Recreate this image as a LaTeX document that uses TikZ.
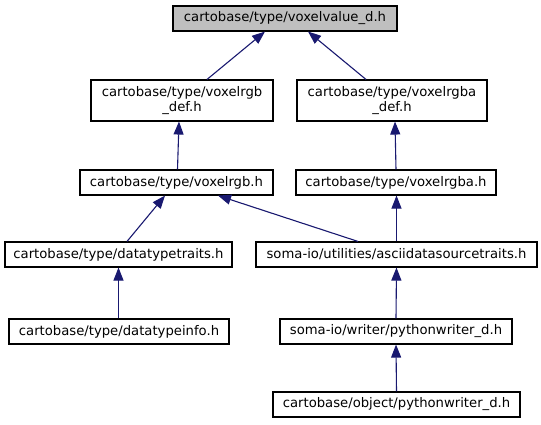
\documentclass[tikz,border=0pt]{standalone}
\usepackage{fontspec}
\setmainfont{DejaVu Sans}
\usetikzlibrary{arrows.meta}
\definecolor{edgeblue}{RGB}{25,25,112}
\definecolor{hlgray}{RGB}{191,191,191}
\begin{document}
\begin{tikzpicture}[x=1pt,y=-1pt,
  box/.style={draw=black,line width=1.1pt,fill=white,inner sep=0pt,font=\fontsize{13.2}{15.5}\selectfont,align=center,minimum height=25pt},
  dep/.style={draw=edgeblue,line width=1.1pt,-{Triangle[length=13pt,width=10pt]},color=edgeblue,fill=none}
]
\useasboundingbox (0,0) rectangle (541,425);
\node[box,fill=hlgray,minimum width=224pt] (vv) at (285,18.5) {cartobase/type/voxelvalue\_d.h};
\node[box,minimum width=182pt,minimum height=41pt] (rgbdef) at (182,100.5) {cartobase/type/voxelrgb\\\_def.h};
\node[box,minimum width=190pt,minimum height=41pt] (rgbadef) at (392,100.5) {cartobase/type/voxelrgba\\\_def.h};
\node[box,minimum width=193pt] (rgb) at (176.5,182.5) {cartobase/type/voxelrgb.h};
\node[box,minimum width=200pt] (rgba) at (396,182.5) {cartobase/type/voxelrgba.h};
\node[box,minimum width=227pt] (dtt) at (118.5,254.5) {cartobase/type/datatypetraits.h};
\node[box,minimum width=281pt] (ascii) at (396.5,254.5) {soma-io/utilities/asciidatasourcetraits.h};
\node[box,minimum width=220pt] (dti) at (119,331.5) {cartobase/type/datatypeinfo.h};
\node[box,minimum width=232pt] (pyw) at (396,331.5) {soma-io/writer/pythonwriter\_d.h};
\node[box,minimum width=247pt] (opyw) at (396.5,404.5) {cartobase/object/pythonwriter\_d.h};

\draw[dep] ([xshift=25pt]rgbdef.north) -- ([xshift=-20pt]vv.south);
\draw[dep] ([xshift=-26pt]rgbadef.north) -- ([xshift=23pt]vv.south);
\draw[dep] ([xshift=1pt]rgb.north) -- ([xshift=-3pt]rgbdef.south);
\draw[dep] (rgba.north) -- ([xshift=3pt]rgbadef.south);
\draw[dep] ([xshift=8.5pt]dtt.north) -- ([xshift=-11.5pt]rgb.south);
\draw[dep] ([xshift=-38.5pt]ascii.north) -- ([xshift=41.5pt]rgb.south);
\draw[dep] (ascii.north) -- ([xshift=0.5pt]rgba.south);
\draw[dep] ([xshift=-0.5pt]dti.north) -- (dtt.south);
\draw[dep] (pyw.north) -- (ascii.south);
\draw[dep] (opyw.north) -- (pyw.south);
\end{tikzpicture}
\end{document}
